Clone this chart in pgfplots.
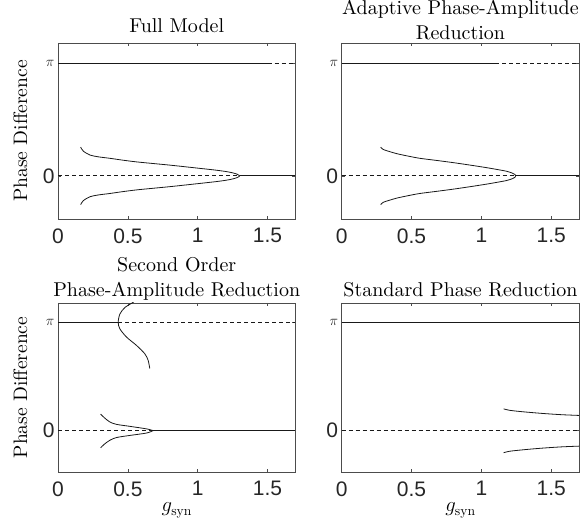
\documentclass[border=0pt]{standalone}
\usepackage{fontspec}
\setmainfont{lmroman10-regular}[Extension=.otf, ItalicFont=lmroman10-italic, BoldFont=lmroman10-bold]
\usepackage{pgfplots}
\pgfplotsset{compat=1.18}
\newfontfamily\ticksans{Liberation Sans}

\pgfplotsset{
  panel/.style={
    scale only axis, width=237.5pt,
    xmin=0, xmax=1.7, ymin=-1.2, ymax=3.7,
    xtick={0,0.5,1,1.5}, xticklabels={0,0.5,1,1.5},
    ytick={0,3.14159265}, yticklabels={0,{\fontsize{15}{15}\selectfont$\pi$}},
    tick align=inside, tick pos=both, major tick length=3pt,
    axis line style={black!70, line width=0.7pt},
    tick style={black!70, line width=0.7pt},
    tick label style={font=\ticksans\fontsize{21}{21}\selectfont, text=black!85},
    xticklabel style={yshift=-6pt},
    title style={font=\fontsize{20}{25}\selectfont, at={(axis description cs:0.5,1)}, anchor=base},
    label style={font=\fontsize{19.5}{20}\selectfont},
    ylabel style={at={(axis description cs:-0.1305,0.5)}, anchor=base},
  },
  stab/.style={black!90, line width=0.8pt, no marks},
  unst/.style={black!90, line width=0.8pt, dash pattern=on 4pt off 3pt, no marks},
}

\begin{document}
\begin{tikzpicture}
\path[use as bounding box] (0,0) rectangle (582pt,527pt);

% Full Model
\begin{axis}[panel, height=176pt, at={(58pt,308pt)}, anchor=south west,
  title={Full Model}, title style={yshift=4pt},
  ylabel={Phase Difference}]
\addplot[stab] coordinates {(0,3.14159) (1.5,3.14159)};
\addplot[unst] coordinates {(1.5,3.14159) (1.7,3.14159)};
\addplot[unst] coordinates {(0,0) (1.30,0)};
\addplot[stab] coordinates {(1.30,0) (1.7,0)};
\addplot[stab, smooth] coordinates {(0.162,0.80) (0.181,0.69) (0.229,0.58) (0.29,0.53) (0.371,0.49) (0.46,0.44) (0.562,0.39) (0.68,0.345) (0.80,0.30) (0.92,0.25) (1.038,0.20) (1.13,0.16) (1.205,0.12) (1.25,0.085) (1.28,0.05) (1.295,0.02) (1.30,0)};
\addplot[stab, smooth] coordinates {(0.162,-0.80) (0.181,-0.69) (0.229,-0.58) (0.29,-0.53) (0.371,-0.49) (0.46,-0.44) (0.562,-0.39) (0.68,-0.345) (0.80,-0.30) (0.92,-0.25) (1.038,-0.20) (1.13,-0.16) (1.205,-0.12) (1.25,-0.085) (1.28,-0.05) (1.295,-0.02) (1.30,0)};
\end{axis}

% Adaptive Phase-Amplitude Reduction
\begin{axis}[panel, height=176pt, at={(341.7pt,308pt)}, anchor=south west,
  title={\begin{tabular}[b]{@{}c@{}}Adaptive Phase-Amplitude\\Reduction\end{tabular}},
  title style={yshift=-3pt}]
\addplot[stab] coordinates {(0,3.14159) (1.1,3.14159)};
\addplot[unst] coordinates {(1.1,3.14159) (1.7,3.14159)};
\addplot[unst] coordinates {(0,0) (1.245,0)};
\addplot[stab] coordinates {(1.245,0) (1.7,0)};
\addplot[stab, smooth] coordinates {(0.279,0.80) (0.297,0.736) (0.34,0.68) (0.393,0.62) (0.47,0.555) (0.559,0.49) (0.68,0.43) (0.797,0.37) (0.92,0.30) (1.036,0.23) (1.11,0.18) (1.179,0.13) (1.22,0.08) (1.24,0.04) (1.245,0)};
\addplot[stab, smooth] coordinates {(0.279,-0.80) (0.297,-0.736) (0.34,-0.68) (0.393,-0.62) (0.47,-0.555) (0.559,-0.49) (0.68,-0.43) (0.797,-0.37) (0.92,-0.30) (1.036,-0.23) (1.11,-0.18) (1.179,-0.13) (1.22,-0.08) (1.24,-0.04) (1.245,0)};
\end{axis}

% Second Order Phase-Amplitude Reduction
\begin{axis}[panel, height=169pt, at={(58pt,55pt)}, anchor=south west,
  title={\begin{tabular}[b]{@{}c@{}}Second Order\\Phase-Amplitude Reduction\end{tabular}},
  title style={yshift=0pt},
  ylabel={Phase Difference},
  xlabel={$g_{\mathrm{syn}}$},
  xlabel style={at={(axis description cs:0.5,0)}, anchor=base, yshift=-40pt}]
\addplot[stab] coordinates {(0,3.14159) (0.431,3.14159)};
\addplot[unst] coordinates {(0.431,3.14159) (1.7,3.14159)};
\addplot[stab, smooth] coordinates {(0.56,3.80) (0.538,3.72) (0.479,3.57) (0.443,3.38) (0.431,3.14) (0.443,2.95) (0.491,2.71) (0.562,2.47) (0.621,2.23) (0.645,2.04) (0.657,1.80)};
\addplot[unst] coordinates {(0,0) (0.681,0)};
\addplot[stab] coordinates {(0.681,0) (1.7,0)};
\addplot[stab, smooth] coordinates {(0.305,0.48) (0.33,0.38) (0.371,0.25) (0.42,0.18) (0.514,0.124) (0.634,0.05) (0.681,0)};
\addplot[stab, smooth] coordinates {(0.305,-0.50) (0.33,-0.40) (0.371,-0.28) (0.42,-0.20) (0.514,-0.14) (0.634,-0.07) (0.681,0)};
\end{axis}

% Standard Phase Reduction
\begin{axis}[panel, height=169pt, at={(341.7pt,55pt)}, anchor=south west,
  title={Standard Phase Reduction}, title style={yshift=0pt},
  xlabel={$g_{\mathrm{syn}}$},
  xlabel style={at={(axis description cs:0.5,0)}, anchor=base, yshift=-40pt}]
\addplot[stab] coordinates {(0,3.14159) (1.7,3.14159)};
\addplot[unst] coordinates {(0,0) (1.7,0)};
\addplot[stab, smooth] coordinates {(1.159,0.63) (1.2,0.59) (1.274,0.555) (1.37,0.52) (1.464,0.49) (1.58,0.46) (1.70,0.44)};
\addplot[stab, smooth] coordinates {(1.159,-0.64) (1.2,-0.60) (1.274,-0.566) (1.37,-0.53) (1.464,-0.50) (1.58,-0.47) (1.70,-0.45)};
\end{axis}
\end{tikzpicture}
\end{document}
